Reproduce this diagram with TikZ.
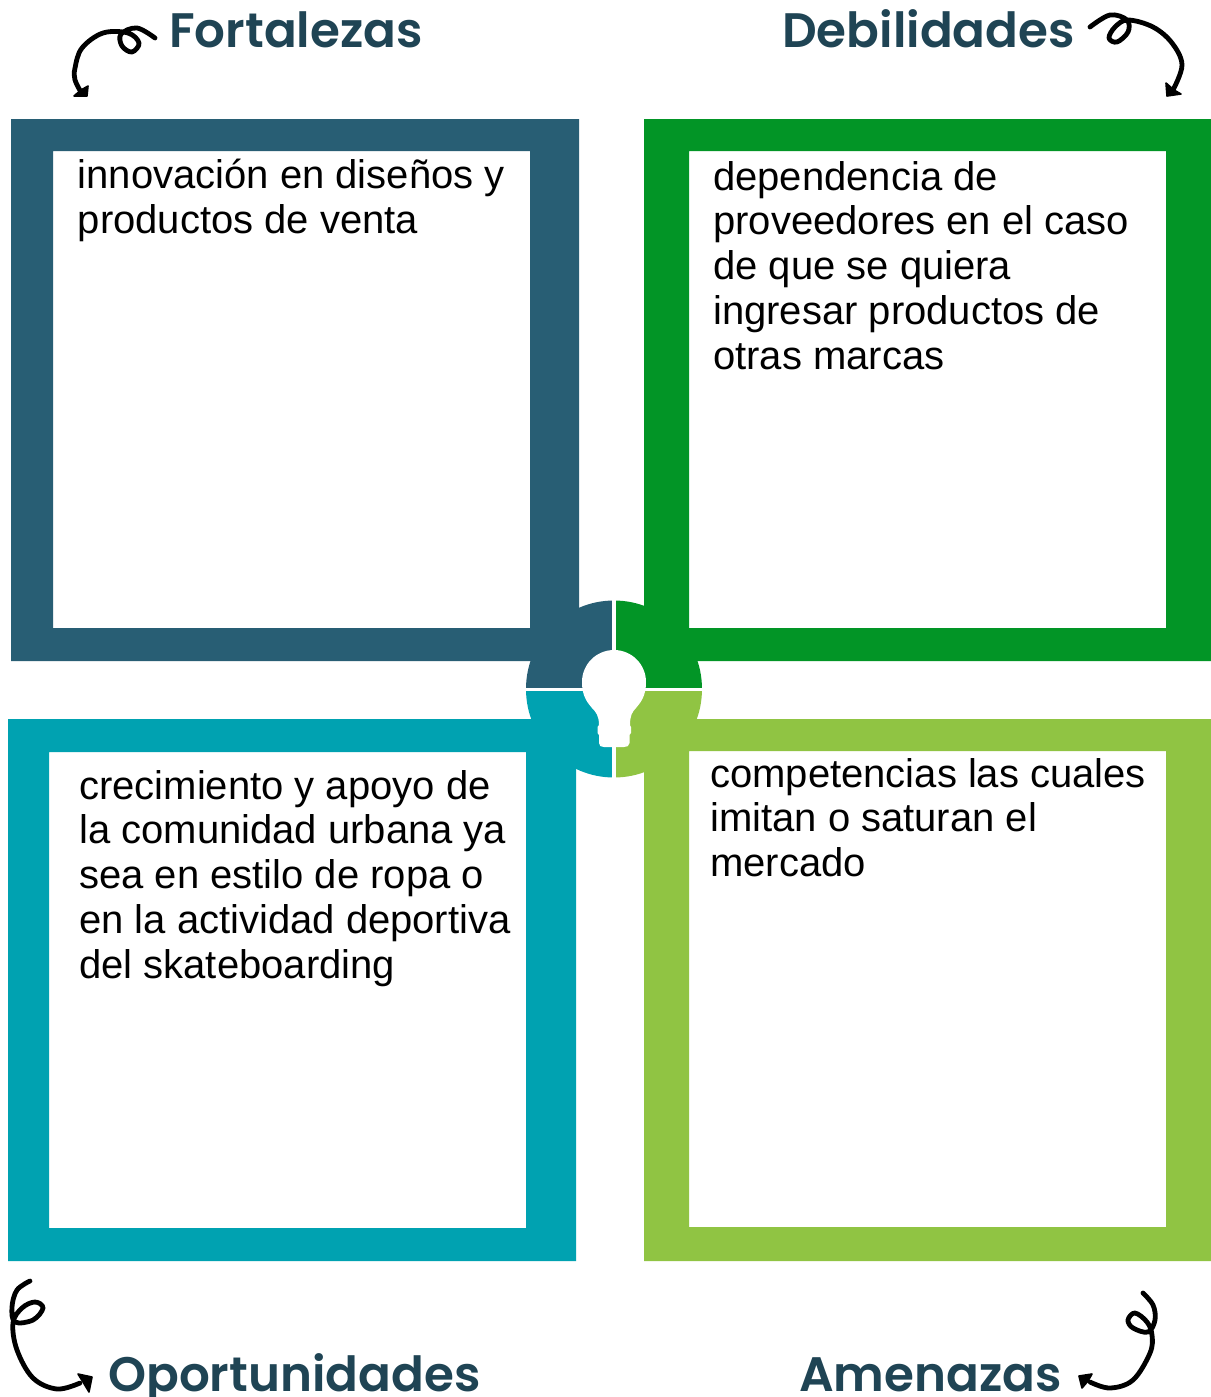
\documentclass[tikz,border=0pt]{standalone}
\usepackage{fontspec}
\setmainfont{Liberation Sans}
\newfontfamily\hdfont{Poppins SemiBold}
\definecolor{cA}{HTML}{285E74}
\definecolor{cB}{HTML}{029526}
\definecolor{cC}{HTML}{00A2B1}
\definecolor{cD}{HTML}{90C443}
\definecolor{hd}{HTML}{1F4454}
\tikzset{
  body/.style={anchor=north west,inner sep=0pt,align=left,font=\fontsize{30}{33.55}\selectfont,text=black},
  head/.style={anchor=base west,inner sep=0pt,font=\hdfont\fontsize{36.3}{40}\selectfont,text=hd},
  curl/.style={draw=black,line width=3.6pt,line cap=round,line join=round},
  tip/.style={fill=black,draw=black,line width=1.2pt,line join=round}
}
\begin{document}
\begin{tikzpicture}[x=0.75pt,y=-0.75pt]
\useasboundingbox (0,0) rectangle (1211,1397);
\clip (0,0) rectangle (1211,1397);
\fill[white] (0,0) rectangle (1211,1397);
% frames
\fill[cA,even odd rule] (11,119) rectangle (579,661) (53,151) rectangle (530,628);
\fill[cB,even odd rule] (644,119) rectangle (1211,661) (689,151) rectangle (1166,628);
\fill[cC,even odd rule] (8,719) rectangle (576,1261) (49,752) rectangle (526,1228);
\fill[cD,even odd rule] (644,719) rectangle (1211,1261) (689,751) rectangle (1166,1227);
% sectors
\fill[cA] (614,689) -- (526,689) arc[start angle=180,end angle=90,x radius=88,y radius=-88.5] -- cycle;
\fill[cB] (614,689) -- (614,600.5) arc[start angle=90,end angle=0,x radius=88,y radius=-88.5] -- cycle;
\fill[cC] (614,689) -- (526,689) arc[start angle=180,end angle=270,x radius=88,y radius=-88.5] -- cycle;
\fill[cD] (614,689) -- (702,689) arc[start angle=0,end angle=-90,x radius=88,y radius=-88.5] -- cycle;
\fill[white] (612,600) rectangle (616,778);
\fill[white] (525,688) rectangle (703,690.5);
% bulb
\fill[white] (582,682) arc[start angle=180,end angle=0,x radius=32,y radius=-32]
  .. controls (646,697) and (640,703) .. (636,708)
  .. controls (632,712) and (630,716) .. (630,725)
  -- (631,727) -- (631,733) -- (629.5,735) -- (629.5,743)
  .. controls (629.5,746) and (627,747) .. (624,747)
  -- (604,747)
  .. controls (601,747) and (599,746) .. (599,743)
  -- (599,735) -- (597.5,733) -- (597.5,727) -- (599,725)
  .. controls (599,716) and (596,712) .. (592,708)
  .. controls (588,703) and (582,697) .. (582,682) -- cycle;
% body texts
\node[body] (tf) at (77.5,159) {innovación en diseños y\\productos de venta};
\node[body] (td) at (713,161) {dependencia de\\proveedores en el caso\\de que se quiera\\ingresar productos de\\otras marcas};
\node[body] (to) at (79,770) {crecimiento y apoyo de\\la comunidad urbana ya\\sea en estilo de ropa o\\en la actividad deportiva\\del skateboarding};
\node[body] (ta) at (710,758) {competencias las cuales\\imitan o saturan el\\mercado};
% headings
\node[head] (hf) at (169,47) {Fortalezas};
\node[head] (hdb) at (782,47) {Debilidades};
\node[head] (ho) at (108,1391) {Oportunidades};
\node[head] (ha) at (799,1391) {Amenazas};
% curly arrows
\draw[curl] plot[smooth,tension=.6] coordinates {(155,38) (137,28) (121,34) (122,46) (132,52) (139,43) (128,33) (103,33) (82,48) (75,68) (75,80) (81,92)};
\fill[tip] (74,96) -- (87,96) -- (88,86) -- (81,90) -- cycle;
\draw[curl] plot[smooth,tension=.6] coordinates {(1090,27) (1110,15) (1127,20) (1128,32) (1117,42) (1109,38) (1115,27) (1128,20) (1153,27) (1172,43) (1182,65) (1173,90)};
\fill[tip] (1166,83) -- (1167,96) -- (1181,94) -- (1174,90) -- cycle;
\draw[curl] plot[smooth,tension=.6] coordinates {(30,1281) (17,1290) (12,1307) (15,1322) (33,1320) (43,1308) (35,1302) (22,1308) (13,1323) (17,1350) (33,1378) (57,1389) (80,1383)};
\fill[tip] (78,1374) -- (92,1377) -- (89,1392) -- (83,1382) -- cycle;
\draw[curl] plot[smooth,tension=.6] coordinates {(1143,1293) (1153,1305) (1155,1320) (1148,1332) (1133,1328) (1128,1320) (1135,1313) (1147,1322) (1152,1335) (1150,1353) (1133,1380) (1110,1388) (1090,1382)};
\fill[tip] (1079,1376) -- (1092,1374) -- (1088,1381) -- (1082,1388) -- cycle;
\end{tikzpicture}
\end{document}
